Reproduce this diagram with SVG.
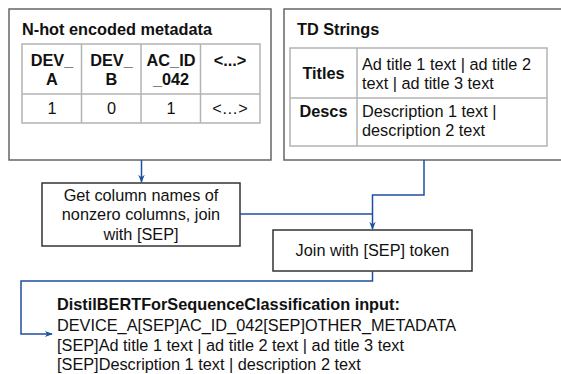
<svg xmlns="http://www.w3.org/2000/svg" width="561" height="374" viewBox="0 0 561 374">
  <defs>
    <style>
      text { font-family: "Liberation Sans", Arial, sans-serif; font-size: 16.3px; fill: #111; }
      .b { font-weight: bold; }
      .c { text-anchor: middle; }
      .panel { fill: #fff; stroke: #666; stroke-width: 1.5; }
      .grid { fill: none; stroke: #b3b3b3; stroke-width: 1.5; }
      .box { fill: #fff; stroke: #333; stroke-width: 1.5; }
      .edge { fill: none; stroke: #1f4fa0; stroke-width: 1.5; }
    </style>
    <marker id="arr" viewBox="0 0 10 10" refX="9" refY="5" markerWidth="8" markerHeight="8" markerUnits="userSpaceOnUse" orient="auto">
      <path d="M0,1 L10,5 L0,9 L3,5 Z" fill="#1f4fa0"/>
    </marker>
  </defs>
  <rect width="561" height="374" fill="#fff"/>

  <g id="nhot">
    <rect class="panel" x="9" y="9" width="262" height="151"/>
    <text class="b" x="22" y="35">N-hot encoded metadata</text>
    <rect class="grid" x="22" y="44" width="238" height="79"/>
    <line class="grid" x1="22" y1="94" x2="260" y2="94"/>
    <line class="grid" x1="81.5" y1="44" x2="81.5" y2="123"/>
    <line class="grid" x1="141" y1="44" x2="141" y2="123"/>
    <line class="grid" x1="200.5" y1="44" x2="200.5" y2="123"/>
    <text class="b c" x="52" y="66">DEV_</text>
    <text class="b c" x="52" y="85">A</text>
    <text class="b c" x="111.5" y="66">DEV_</text>
    <text class="b c" x="111.5" y="85">B</text>
    <text class="b c" x="171" y="66">AC_ID</text>
    <text class="b c" x="171" y="85">_042</text>
    <text class="b c" x="230" y="66">&lt;...&gt;</text>
    <text class="c" x="52" y="114">1</text>
    <text class="c" x="111.5" y="114">0</text>
    <text class="c" x="171" y="114">1</text>
    <text class="c" x="230" y="114">&lt;…&gt;</text>
  </g>

  <g id="td">
    <rect class="panel" x="284" y="9" width="290" height="151"/>
    <text class="b" x="297" y="35">TD Strings</text>
    <rect class="grid" x="290" y="48" width="257" height="98"/>
    <line class="grid" x1="290" y1="98" x2="547" y2="98"/>
    <line class="grid" x1="357" y1="48" x2="357" y2="146"/>
    <text class="b c" x="323.5" y="79">Titles</text>
    <text x="362" y="70">Ad title 1 text | ad title 2</text>
    <text x="362" y="89">text | ad title 3 text</text>
    <text class="b c" x="323.5" y="117">Descs</text>
    <text x="362" y="117">Description 1 text |</text>
    <text x="362" y="136">description 2 text</text>
  </g>

  <g id="getcols">
    <rect class="box" x="42" y="183" width="198" height="63"/>
    <text class="c" x="141" y="201">Get column names of</text>
    <text class="c" x="141" y="220">nonzero columns, join</text>
    <text class="c" x="141" y="239.5">with [SEP]</text>
  </g>

  <g id="join">
    <rect class="box" x="273" y="230" width="199" height="41"/>
    <text class="c" x="372.5" y="256">Join with [SEP] token</text>
  </g>

  <g id="output">
    <text class="b" x="57" y="310">DistilBERTForSequenceClassification input:</text>
    <text x="57" y="330.5">DEVICE_A[SEP]AC_ID_042[SEP]OTHER_METADATA</text>
    <text x="57" y="350.5">[SEP]Ad title 1 text | ad title 2 text | ad title 3 text</text>
    <text x="57" y="370">[SEP]Description 1 text | description 2 text</text>
  </g>

  <g id="connectors">
    <path class="edge" d="M141.5,160 V182" marker-end="url(#arr)"/>
    <path class="edge" d="M424,160 V195 H372.5 V229" marker-end="url(#arr)"/>
    <path class="edge" d="M240,214 H372.5"/>
    <path class="edge" d="M372.5,271 V281 H21 V334 H52" marker-end="url(#arr)"/>
  </g>
</svg>
